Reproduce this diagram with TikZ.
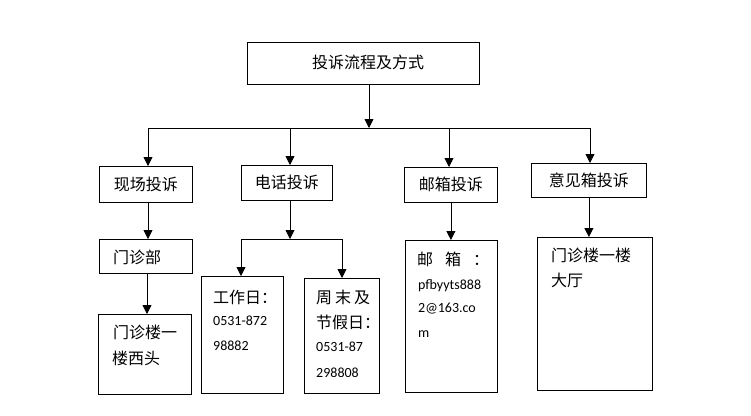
\documentclass[tikz,border=0pt]{standalone}
\usepackage{fontspec}
\setmainfont{Carlito}
\newfontfamily\cjk{Noto Sans CJK SC}
\usetikzlibrary{arrows.meta}
\begin{document}
\begin{tikzpicture}[x=1pt,y=-1pt,
  box/.style={draw, line width=0.8pt, inner sep=0pt, anchor=north west, font=\cjk\fontsize{16}{18}\selectfont},
  cj/.style={font=\cjk\fontsize{16}{18}\selectfont, inner sep=0pt, anchor=west},
  lat/.style={font=\fontsize{14}{16}\selectfont, inner sep=0pt, anchor=west},
  arr/.style={draw, line width=0.8pt, -{Triangle[width=9pt,length=9pt]}},
  ln/.style={draw, line width=0.8pt}]
\useasboundingbox[fill=white] (0,0) rectangle (751,415);

% boxes
\node[box, minimum width=232pt, minimum height=42pt] (top) at (247,42) {};
\node[box, minimum width=93pt, minimum height=36pt] (b1) at (99,166) {现场投诉};
\node[box, minimum width=91pt, minimum height=35pt] (b2) at (241,165) {电话投诉};
\node[box, minimum width=93pt, minimum height=35pt] (b3) at (404,167) {邮箱投诉};
\node[box, minimum width=115pt, minimum height=34pt] (b4) at (531,163) {意见箱投诉};
\node[box, minimum width=93pt, minimum height=34pt] (c1) at (99,239) {};
\node[box, minimum width=93pt, minimum height=80pt] (d1) at (98,314) {};
\node[box, minimum width=82pt, minimum height=117pt] (c2) at (201,276) {};
\node[box, minimum width=75pt, minimum height=115pt] (c3) at (304,278) {};
\node[box, minimum width=92pt, minimum height=152pt] (c4) at (405,240) {};
\node[box, minimum width=115pt, minimum height=153pt] (c5) at (537,237) {};

% texts
\node[cj, anchor=center] (tt) at (368,62) {投诉流程及方式};
\node[cj] (tc1) at (113,257) {门诊部};
\node[cj] (td1a) at (113,332) {门诊楼一};
\node[cj] (td1b) at (112,358) {楼西头};
\node[cj] (tc2a) at (213,297) {工作日：};
\node[lat] (tc2b) at (213,321) {0531-872};
\node[lat] (tc2c) at (213,346) {98882};
\node[cj] (tc3a) at (316,297) {周\hspace{3pt}末\hspace{3pt}及};
\node[cj] (tc3b) at (316,322) {节假日：};
\node[lat] (tc3c) at (316,347) {0531-87};
\node[lat] (tc3d) at (316,373) {298808};
\node[cj] (tc4a) at (417,259) {邮\hspace{12pt}箱\hspace{12pt}：};
\node[lat] (tc4b) at (418,286) {pfbyyts888};
\node[lat] (tc4c) at (418,309) {2@163.co};
\node[lat] (tc4d) at (418,334) {m};
\node[cj] (tc5a) at (551,255) {门诊楼一楼};
\node[cj] (tc5b) at (551,280) {大厅};

% junctions
\coordinate (j0) at (369,128);
\coordinate (jl) at (148,128);
\coordinate (j2) at (290,128);
\coordinate (j3) at (449,128);
\coordinate (jr) at (590,128);
\coordinate (k0) at (290,239);
\coordinate (kl) at (241,239);
\coordinate (kr) at (342,239);

% connectors
\draw[arr] (j0 |- top.south) -- (j0);
\draw[ln] (jl) -- (jr);
\draw[arr] (jl) -- (jl |- b1.north);
\draw[arr] (j2) -- (j2 |- b2.north);
\draw[arr] (j3) -- (j3 |- b3.north);
\draw[arr] (jr) -- (jr |- b4.north);

\draw[arr] (jl |- b1.south) -- (jl |- c1.north);
\draw[arr] ([xshift=-1pt]jl |- c1.south) -- ([xshift=-1pt]jl |- d1.north);

\draw[arr] (j2 |- b2.south) -- (k0);
\draw[ln] (kl) -- (kr);
\draw[arr] (kl) -- (kl |- c2.north);
\draw[arr] (kr) -- (kr |- c3.north);

\draw[arr] (b3.south) -- (b3.south |- c4.north);
\draw[arr] (b4.south) -- (b4.south |- c5.north);
\end{tikzpicture}
\end{document}
